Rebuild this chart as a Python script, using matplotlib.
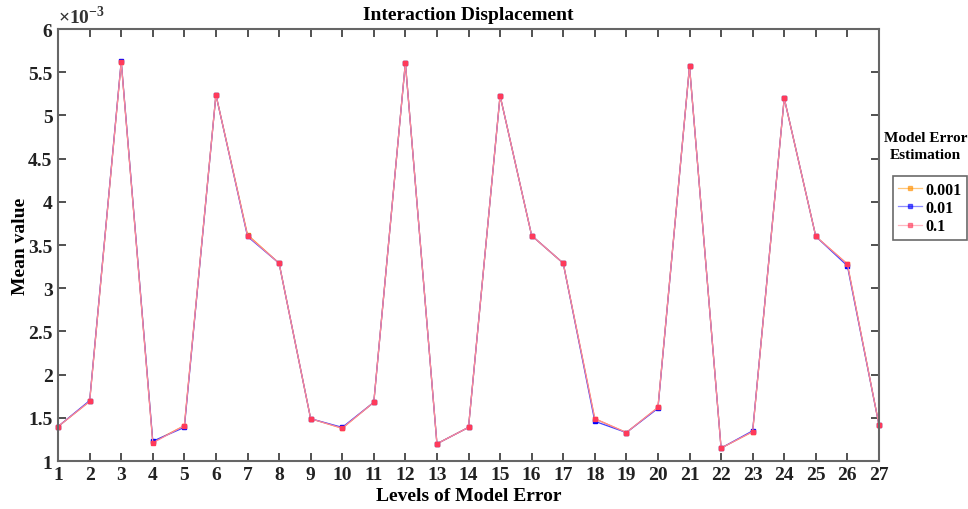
import numpy as np
import matplotlib.pyplot as plt

plt.rcParams['font.family'] = ['Liberation Serif', 'DejaVu Serif']
plt.rcParams['font.weight'] = 'bold'
plt.rcParams['mathtext.fontset'] = 'custom'
plt.rcParams['mathtext.rm'] = 'Liberation Serif'

# niveles de error del modelo
levels = np.arange(1, 28)

# valores medios (x 1e-3) por estimacion
err_001 = [1.40, 1.69, 5.62, 1.22, 1.41, 5.24, 3.62, 3.29, 1.49, 1.38, 1.68, 5.61, 1.20, 1.39,
           5.23, 3.61, 3.29, 1.49, 1.33, 1.62, 5.57, 1.15, 1.34, 5.20, 3.60, 3.28, 1.42]
err_01 = [1.40, 1.70, 5.63, 1.23, 1.39, 5.24, 3.60, 3.29, 1.49, 1.39, 1.68, 5.61, 1.20, 1.39,
          5.23, 3.61, 3.29, 1.46, 1.33, 1.61, 5.57, 1.15, 1.35, 5.20, 3.60, 3.26, 1.42]
err_1 = [1.40, 1.69, 5.62, 1.21, 1.41, 5.24, 3.61, 3.29, 1.49, 1.38, 1.68, 5.61, 1.20, 1.39,
         5.23, 3.61, 3.29, 1.49, 1.33, 1.62, 5.57, 1.15, 1.34, 5.20, 3.60, 3.28, 1.42]
labels = ['0.001', '0.01', '0.1']

fig = plt.figure(figsize=(9.68, 5.10), dpi=100)
ax = fig.add_axes([0.060, 0.094, 0.848, 0.847])

ax.plot(levels, np.array(err_001) * 1e-3, color='#ffa020', lw=0.9, marker='s', ms=3,
        mec='#ff9000', mfc='#ff9000', label=labels[0], clip_on=False)
ax.plot(levels, np.array(err_01) * 1e-3, color='#4040ff', lw=0.9, marker='s', ms=3,
        mec='#0000ff', mfc='#0000ff', label=labels[1], clip_on=False)
ax.plot(levels, np.array(err_1) * 1e-3, color='#ff8899', lw=0.9, marker='s', ms=3.5,
        mec='#ff3a5a', mfc='#ff3a5a', label=labels[2], clip_on=False)

ax.set_xlim(1, 27)
ax.set_ylim(1e-3, 6e-3)
ax.set_xticks(levels)
ax.set_yticks(np.arange(1, 6.01, 0.5) * 1e-3)
ax.set_yticklabels([f'{v:g}' for v in np.arange(1, 6.01, 0.5)])
ax.text(0.0, 1.004, r'$\times 10^{-3}$', transform=ax.transAxes, fontsize=14,
        ha='left', va='bottom', color='#333333')

ax.tick_params(direction='in', length=6, top=True, right=True, labelsize=14, colors='#333333',
               labelcolor='#222222', width=1.2)
ax.tick_params(axis='y', pad=4)
for s in ax.spines.values():
    s.set_color('#666666')
    s.set_linewidth(1.5)

ax.set_xlabel('Levels of Model Error', fontsize=14, fontweight='bold', labelpad=3)
ax.set_ylabel('Mean value', fontsize=14, fontweight='bold', labelpad=-1)
ax.set_title('Interaction Displacement', fontsize=14, fontweight='bold', pad=7)

fig.text(0.956, 0.712, 'Model Error\nEstimation', ha='center', va='center', fontsize=11,
         fontweight='bold', linespacing=1.35)
leg = ax.legend(loc='upper left', bbox_to_anchor=(1.017, 0.66), fontsize=11.5, frameon=True,
                fancybox=False, edgecolor='#444444', handlelength=1.5, handletextpad=0.2,
                borderpad=0.35, labelspacing=0.15, borderaxespad=0)
leg.get_frame().set_linewidth(1.2)
for t in leg.get_texts():
    t.set_fontweight('bold')
for h in leg.get_lines():
    h.set_alpha(0.6)

fig.savefig('out.png', dpi=100)
